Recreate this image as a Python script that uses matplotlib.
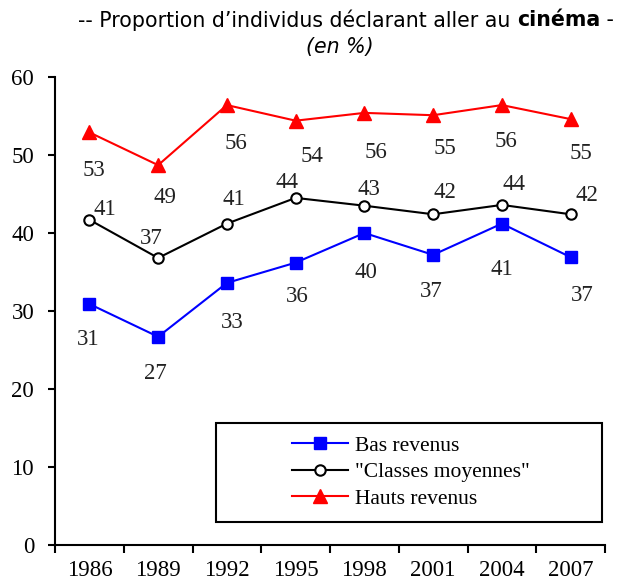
import matplotlib
matplotlib.use("Agg")
from matplotlib import pyplot as plt
from matplotlib.patches import Rectangle

years = ["1986", "1989", "1992", "1995", "1998", "2001", "2004", "2007"]

bas = [30.9, 26.7, 33.6, 36.2, 40.0, 37.2, 41.2, 36.9]
moyennes = [41.7, 36.8, 41.2, 44.5, 43.5, 42.4, 43.6, 42.4]
hauts = [52.9, 48.7, 56.4, 54.4, 55.4, 55.1, 56.4, 54.6]

bas_labels = ["31", "27", "33", "36", "40", "37", "41", "37"]
moy_labels = ["41", "37", "41", "44", "43", "42", "44", "42"]
hauts_labels = ["53", "49", "56", "54", "56", "55", "56", "55"]

# label offsets in pixels (dx, dy down positive)
bas_off = [(-1, 36), (-3, 37), (5, 40), (2, 34), (2, 40), (-2, 37), (0, 46), (12, 38)]
moy_off = [(15, -10), (-7, -19), (7, -24), (-9, -15), (5, -16), (12, -22), (12, -20), (16, -19)]
hauts_off = [(5, 38), (7, 32), (9, 38), (16, 36), (12, 40), (12, 33), (4, 36), (10, 34)]

serif = "Liberation Serif"
fs = 16.5

fig = plt.figure(figsize=(6.23, 5.85), dpi=100)
ax = fig.add_axes([55 / 623, 40 / 585, 550 / 623, 468 / 585])

x = list(range(len(years)))
l1, = ax.plot(x, bas, color="#0000FF", lw=1.5, marker="s", ms=9, label="Bas revenus")
l2, = ax.plot(x, moyennes, color="black", lw=1.5, marker="o", ms=7.5, mfc="white",
              mec="black", mew=1.5, label='"Classes moyennes"')
l3, = ax.plot(x, hauts, color="#FF0000", lw=1.5, marker="^", ms=10, label="Hauts revenus")

for vals, labs, offs in [(bas, bas_labels, bas_off), (moyennes, moy_labels, moy_off),
                         (hauts, hauts_labels, hauts_off)]:
    for i, (v, lab) in enumerate(zip(vals, labs)):
        dx, dy = offs[i]
        ax.annotate(lab, (i, v), xytext=(dx * 0.72, -dy * 0.72), textcoords="offset points",
                    ha="center", va="center", fontsize=fs, family=serif, color="#222222")

ax.set_xlim(-0.5, 7.5)
ax.set_ylim(0, 60)
ax.set_yticks(range(0, 61, 10))
ax.set_xticks(x)
ax.set_xticklabels(years)
ax.set_xticks([i - 0.5 for i in range(len(years) + 1)], minor=True)
ax.tick_params(axis="x", which="major", length=0, pad=11)
ax.tick_params(axis="x", which="minor", length=6, width=1.5, direction="out")
ax.tick_params(axis="y", length=5, width=1.5, direction="out", pad=10)
for lab in ax.get_xticklabels() + ax.get_yticklabels():
    lab.set_family(serif)
    lab.set_fontsize(fs)
for s in ["top", "right"]:
    ax.spines[s].set_visible(False)
for s in ["left", "bottom"]:
    ax.spines[s].set_linewidth(1.5)

# legend box
ax.add_patch(Rectangle((161 / 550, 23 / 468), 386 / 550, 99 / 468, transform=ax.transAxes,
                       fill=False, ec="black", lw=1.5, clip_on=False))
ax.legend(handles=[l1, l2, l3], loc="center", bbox_to_anchor=(356 / 550, 73 / 468),
          frameon=False, prop={"family": serif, "size": 15.5}, handlelength=2.6,
          labelspacing=0.3, handletextpad=0.3)

# title
fig.canvas.draw()
r = fig.canvas.get_renderer()
tfs = 14.8
t1 = fig.text(78 / 623, 1 - 20 / 585, "-- Proportion d\u2019individus déclarant aller au ",
              fontsize=tfs, family="DejaVu Sans", va="center", ha="left")
e1 = t1.get_window_extent(r)
t2 = fig.text(e1.x1 / fig.bbox.width, 1 - 20 / 585, "cinéma",
              fontsize=tfs, family="DejaVu Sans", weight="bold", va="center", ha="left")
e2 = t2.get_window_extent(r)
fig.text(e2.x1 / fig.bbox.width, 1 - 20 / 585, " -",
         fontsize=tfs, family="DejaVu Sans", va="center", ha="left")
fig.text(340 / 623, 1 - 47 / 585, "(en %)", fontsize=tfs, family="DejaVu Sans",
         style="italic", va="center", ha="center")

fig.savefig("out.png", dpi=100)
